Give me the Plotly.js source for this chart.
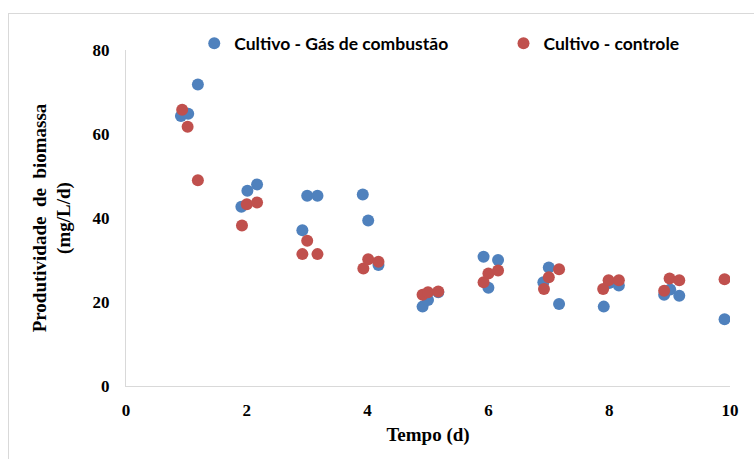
<!DOCTYPE html>
<html>
<head>
<meta charset="utf-8">
<script src="https://cdn.plot.ly/plotly-3.0.1.min.js"></script>
<style>
  html, body { margin: 0; padding: 0; background: #fff; overflow: hidden; }
  #chart { width: 754px; height: 459px; position: absolute; left: 0; top: 0; }
  #frame { position: absolute; left: 8px; top: 13px; width: 800px; height: 500px;
           border: 1px solid #d9d9d9; pointer-events: none; }
</style>
</head>
<body>
<div id="chart"></div>
<div id="frame"></div>
<script>
// Cultivo - Gás de combustão
const gasX = [0.91, 1.03, 1.19, 1.91, 2.01, 2.17, 2.92, 3.00, 3.17, 3.92, 4.01, 4.18,
              4.91, 5.00, 5.17, 5.92, 6.00, 6.16, 6.91, 7.00, 7.17, 7.91, 8.00, 8.16,
              8.91, 9.01, 9.16, 9.91];
const gasY = [64.3, 64.8, 71.8, 42.7, 46.5, 48.0, 37.1, 45.3, 45.3, 45.6, 39.4, 28.8,
              18.9, 20.5, 22.3, 30.8, 23.4, 30.0, 24.7, 28.2, 19.5, 18.9, 24.5, 23.9,
              21.7, 23.0, 21.5, 15.9];
// Cultivo - controle
const ctrlX = [0.93, 1.02, 1.19, 1.92, 2.00, 2.17, 2.92, 3.00, 3.17, 3.93, 4.01, 4.18,
               4.91, 5.00, 5.17, 5.92, 6.00, 6.16, 6.92, 7.00, 7.17, 7.90, 7.99, 8.16,
               8.91, 9.00, 9.16, 9.91];
const ctrlY = [65.8, 61.7, 49.0, 38.2, 43.3, 43.7, 31.4, 34.6, 31.4, 28.0, 30.2, 29.6,
               21.7, 22.3, 22.5, 24.7, 26.8, 27.5, 23.1, 25.9, 27.8, 23.1, 25.2, 25.2,
               22.7, 25.6, 25.2, 25.4];

const seriesNames = ['Cultivo - Gás de combustão', 'Cultivo - controle'];
const xTicks = [0, 2, 4, 6, 8, 10];
const yTicks = [0, 20, 40, 60, 80];

const traces = [
  { x: gasX, y: gasY, type: 'scatter', mode: 'markers', name: seriesNames[0],
    legend: 'legend', marker: { color: '#4F81BD', size: 12 } },
  { x: ctrlX, y: ctrlY, type: 'scatter', mode: 'markers', name: seriesNames[1],
    legend: 'legend2', marker: { color: '#C0504D', size: 12 } }
];

const serif = "'Liberation Serif', 'Times New Roman', serif";
const legFont = { family: "Lato, 'Open Sans', sans-serif", size: 17.5, weight: 'bold', color: '#000' };
const layout = {
  width: 754, height: 459,
  margin: { l: 126, r: 24, t: 50, b: 73 },
  paper_bgcolor: 'rgba(0,0,0,0)',
  plot_bgcolor: '#fff',
  showlegend: true,
  legend: {
    orientation: 'h', x: 0.113, xanchor: 'left', y: 1.02, yanchor: 'middle',
    font: legFont, bgcolor: 'rgba(0,0,0,0)'
  },
  legend2: {
    orientation: 'h', x: 0.625, xanchor: 'left', y: 1.02, yanchor: 'middle',
    font: legFont, bgcolor: 'rgba(0,0,0,0)'
  },
  xaxis: {
    range: [0, 10], tickvals: xTicks, ticktext: xTicks.map(String),
    showgrid: false, zeroline: false, showline: true, linecolor: '#d9d9d9', linewidth: 1,
    ticks: '', ticklabelstandoff: 9,
    tickfont: { family: serif, size: 17, weight: 'bold', color: '#000' },
    title: { text: 'Tempo (d)', standoff: 8,
             font: { family: serif, size: 19, weight: 'bold', color: '#000' } }
  },
  yaxis: {
    range: [0, 80], tickvals: yTicks, ticktext: yTicks.map(String),
    showgrid: false, zeroline: false, showline: true, linecolor: '#d9d9d9', linewidth: 1,
    ticks: '', ticklabelstandoff: 12,
    tickfont: { family: serif, size: 17, weight: 'bold', color: '#000' },
    title: { text: 'Produtividade  de  biomassa<br>(mg/L/d)', standoff: 16,
             font: { family: serif, size: 19, weight: 'bold', color: '#000' } }
  }
};

Plotly.newPlot('chart', traces, layout, { displayModeBar: false, staticPlot: true });
</script>
</body>
</html>
